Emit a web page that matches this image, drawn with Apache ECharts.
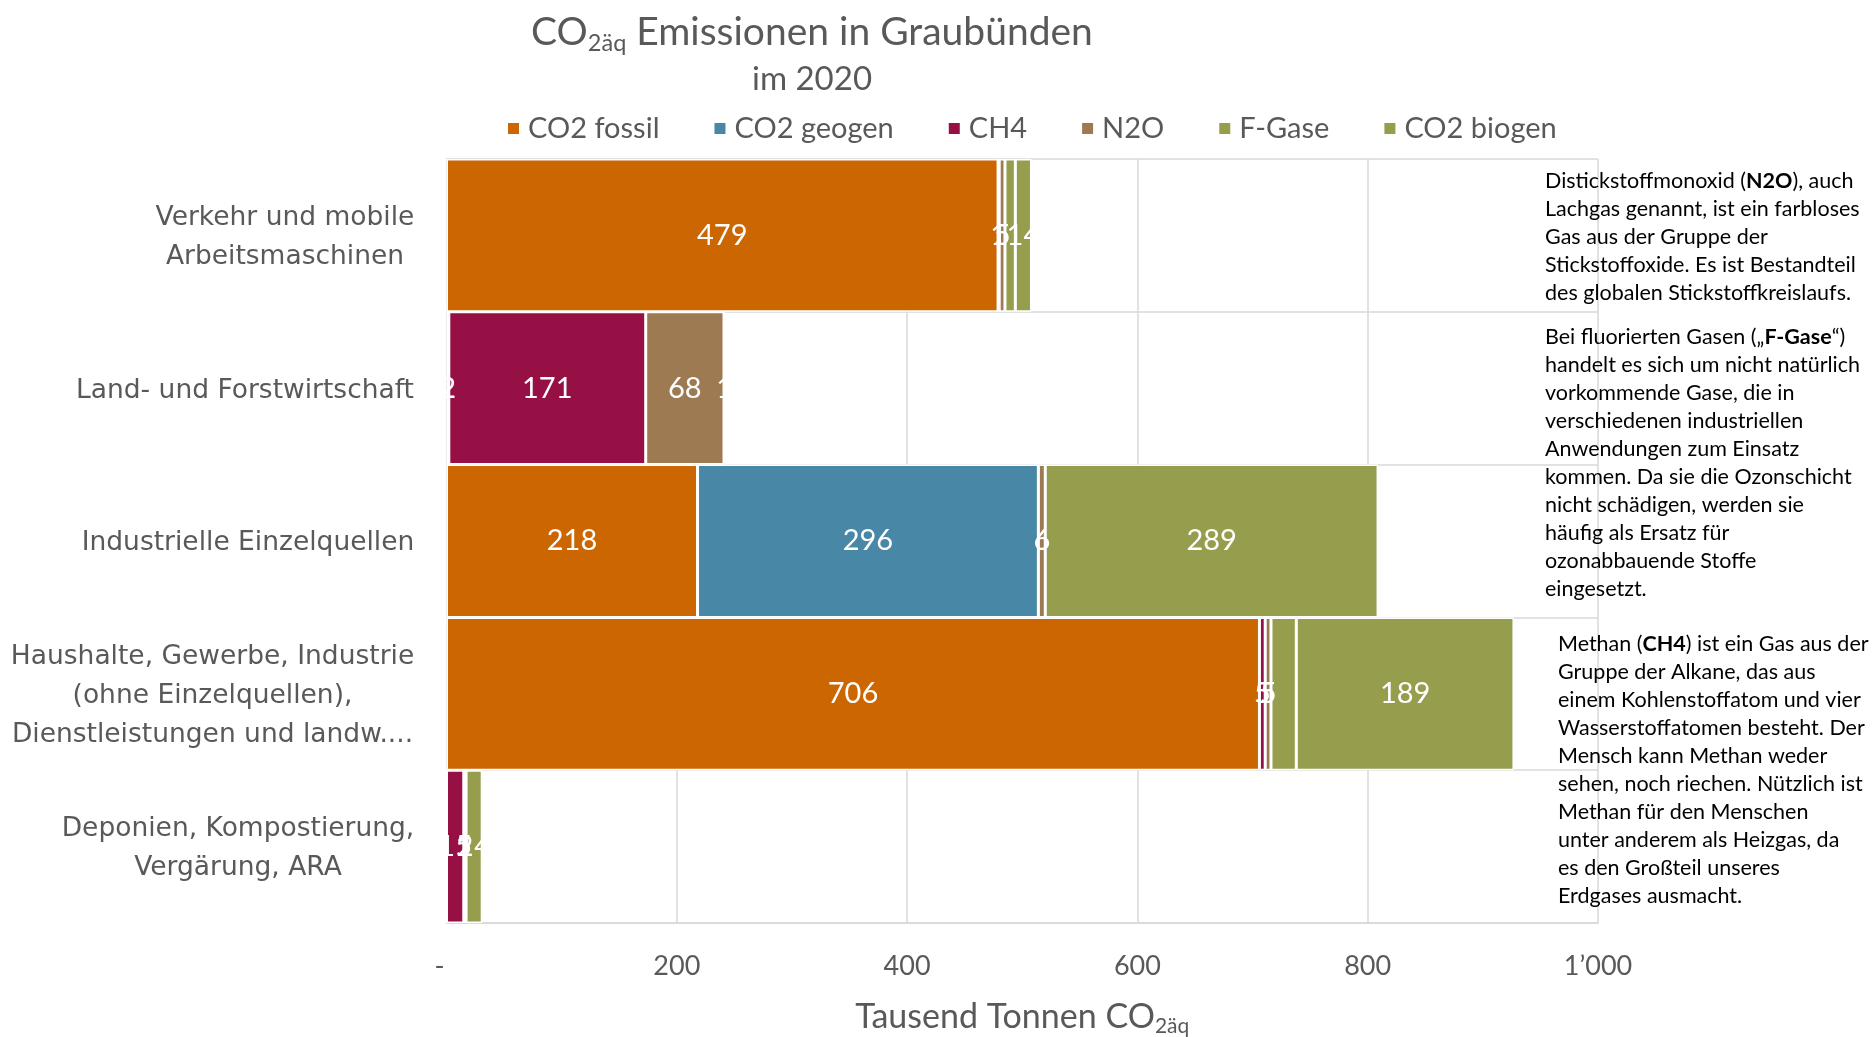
<!DOCTYPE html>
<html><head><meta charset="utf-8">
<script src="https://cdn.jsdelivr.net/npm/echarts@6/dist/echarts.min.js"></script>
<style>html,body{margin:0;padding:0;background:#fff}#c{width:1872px;height:1037px}</style>
</head><body><div id="c"></div><script>
// ---- data ----
const categories = [
  'Verkehr und mobile\nArbeitsmaschinen',
  'Land- und Forstwirtschaft',
  'Industrielle Einzelquellen',
  'Haushalte, Gewerbe, Industrie\n(ohne Einzelquellen),\nDienstleistungen und landw....',
  'Deponien, Kompostierung,\nVergärung, ARA'
];
const seriesNames = ['CO2 fossil', 'CO2 geogen', 'CH4', 'N2O', 'F-Gase', 'CO2 biogen'];
const co2Fossil = [479, 2, 218, 706, 0];
const co2Geogen = [0, 0, 296, 0, 0];
const ch4 = [1, 171, 0, 5, 15];
const n2o = [5, 68, 6, 5, 2];
const fGase = [9, 0, 0, 22, 0];
const co2Biogen = [14, 1, 289, 189, 14];
const xTicks = [0, 200, 400, 600, 800, 1000];
const xTickLabels = ['-', '200', '400', '600', '800', '1’000'];

// ---- styling ----
const colors = ['#CC6600', '#4887A5', '#961046', '#9E7A53', '#969E4E', '#969E4E'];
const gray = '#595959';
const LATO = 'Lato';
const CAT_FONT = 'DejaVu Sans';
const CAT_SIZE = 26.5;

// measure category label widths so each multi-line block is centred
const cvs = document.createElement('canvas').getContext('2d');
cvs.font = CAT_SIZE + 'px "' + CAT_FONT + '"';
const catRich = {};
categories.forEach((c, i) => {
  const w = Math.max(...c.split('\n').map(l => cvs.measureText(l).width));
  catRich['c' + i] = { width: Math.ceil(w) + 2, align: 'center', fontFamily: CAT_FONT, fontSize: CAT_SIZE, lineHeight: 39, color: gray };
});

const seriesData = [co2Fossil, co2Geogen, ch4, n2o, fGase, co2Biogen];
const showLabels = [true, true, true, true, false, true];

const chart = echarts.init(document.getElementById('c'), null, { renderer: 'canvas' });

const AF = 21.5;
const annoRich = {
  n: { fontFamily: LATO, fontSize: AF, lineHeight: 28, fill: '#000' },
  b: { fontFamily: LATO, fontSize: AF, lineHeight: 28, fill: '#000', fontWeight: 'bold' }
};
function anno(lines) {
  return lines.map(l => l.split(/(\*\*[^*]+\*\*)/).filter(s => s).map(s =>
    s.startsWith('**') ? '{b|' + s.slice(2, -2) + '}' : '{n|' + s + '}').join('')).join('\n');
}
const block1 = [
  'Distickstoffmonoxid (**N2O**), auch',
  'Lachgas genannt, ist ein farbloses',
  'Gas aus der Gruppe der',
  'Stickstoffoxide. Es ist Bestandteil',
  'des globalen Stickstoffkreislaufs.'
];
const block2 = [
  'Bei fluorierten Gasen („**F-Gase**“)',
  'handelt es sich um nicht natürlich',
  'vorkommende Gase, die in',
  'verschiedenen industriellen',
  'Anwendungen zum Einsatz',
  'kommen. Da sie die Ozonschicht',
  'nicht schädigen, werden sie',
  'häufig als Ersatz für',
  'ozonabbauende Stoffe',
  'eingesetzt.'
];
const block3 = [
  'Methan (**CH4**) ist ein Gas aus der',
  'Gruppe der Alkane, das aus',
  'einem Kohlenstoffatom und vier',
  'Wasserstoffatomen besteht. Der',
  'Mensch kann Methan weder',
  'sehen, noch riechen. Nützlich ist',
  'Methan für den Menschen',
  'unter anderem als Heizgas, da',
  'es den Großteil unseres',
  'Erdgases ausmacht.'
];

const option = {
  backgroundColor: '#fff',
  color: colors,
  animation: false,
  title: [
    {
      text: '{a|CO}{s|2äq}{a| Emissionen in Graubünden}',
      left: 807, top: 4, textAlign: 'center',
      textStyle: {
        fontWeight: 'normal',
        rich: {
          a: { fontFamily: LATO, fontSize: 39, fontWeight: 'normal', color: gray, lineHeight: 46 },
          s: { fontFamily: LATO, fontSize: 23.5, fontWeight: 'normal', color: gray, lineHeight: 18, verticalAlign: 'bottom' }
        }
      }
    },
    {
      text: 'im 2020',
      left: 807, top: 58, textAlign: 'center',
      textStyle: { fontFamily: LATO, fontSize: 33, color: gray, fontWeight: 'normal' }
    }
  ],
  legend: {
    data: seriesNames,
    left: 501, top: 109,
    icon: 'rect', itemWidth: 13, itemHeight: 13, itemGap: 53,
    textStyle: { fontFamily: LATO, fontSize: 29, color: gray, padding: [0, 0, 0, 3] }
  },
  grid: { left: 446.5, right: 274, top: 159, bottom: 114, containLabel: false, outerBoundsMode: 'none' },
  xAxis: {
    type: 'value', min: 0, max: 1000, interval: 200,
    axisLine: { show: true, lineStyle: { color: '#D9D9D9', width: 1.5 } },
    axisTick: { show: false },
    splitLine: { show: true, lineStyle: { color: '#D9D9D9', width: 1.5 } },
    axisLabel: {
      margin: 30, fontFamily: LATO, fontSize: 27, color: gray,
      formatter: v => { const i = xTicks.indexOf(v); return i < 0 ? '' : (v === 0 ? '{d|' + xTickLabels[i] + '}' : xTickLabels[i]); },
      rich: { d: { fontFamily: LATO, fontSize: 27, color: gray, padding: [0, 14, 0, 0] } }
    },
    name: '{a|Tausend Tonnen CO}{s|2äq}',
    nameLocation: 'middle', nameGap: 74,
    nameTextStyle: {
      rich: {
        a: { fontFamily: LATO, fontSize: 34, color: gray, lineHeight: 40 },
        s: { fontFamily: LATO, fontSize: 21, color: gray, lineHeight: 15, verticalAlign: 'bottom' }
      }
    }
  },
  yAxis: {
    type: 'category', data: categories, inverse: true,
    axisLine: { show: true, lineStyle: { color: '#D9D9D9', width: 1.5 } },
    axisTick: { show: false },
    splitLine: { show: true, lineStyle: { color: '#D9D9D9', width: 1.5 } },
    axisLabel: {
      margin: 31,
      padding: [5, 0, 0, 0],
      formatter: (value, index) => value.split('\n').map(l => '{c' + index + '|' + l + '}').join('\n'),
      rich: catRich
    }
  },
  series: seriesNames.map((name, si) => ({
    name: name, type: 'bar', stack: 'total',
    data: seriesData[si],
    barCategoryGap: '0%',
    itemStyle: { color: colors[si], borderColor: '#fff', borderWidth: 1.5 },
    label: {
      show: showLabels[si], position: 'inside', color: '#fff',
      fontFamily: LATO, fontSize: 29, offset: [0, 3],
      formatter: p => (p.value > 0 ? String(p.value) : '')
    },
    labelLayout: { hideOverlap: false }
  })),
  graphic: [
    { type: 'text', left: 1545, top: 167, z: 100, style: { text: anno(block1), rich: annoRich, fontFamily: LATO, fontSize: AF, lineHeight: 28, fill: '#000' } },
    { type: 'text', left: 1545, top: 323, z: 100, style: { text: anno(block2), rich: annoRich, fontFamily: LATO, fontSize: AF, lineHeight: 28, fill: '#000' } },
    { type: 'text', left: 1558, top: 630, z: 100, style: { text: anno(block3), rich: annoRich, fontFamily: LATO, fontSize: AF, lineHeight: 28, fill: '#000' } }
  ]
};
chart.setOption(option);
</script></body></html>
